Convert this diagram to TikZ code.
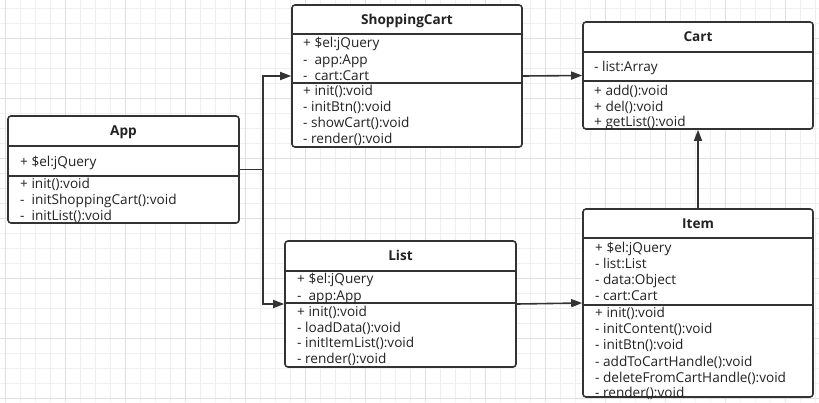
\documentclass[tikz,border=0pt]{standalone}
\usepackage{fontspec}
\setmainfont{Open Sans}
\usetikzlibrary{arrows.meta}
\definecolor{ink}{HTML}{333333}
\definecolor{txt}{HTML}{222222}
\definecolor{gridminor}{HTML}{EFEFEF}
\definecolor{gridmajor}{HTML}{E0E0E0}
\begin{document}
\begin{tikzpicture}[x=1pt,y=-1pt,
 box/.style={draw=ink,line width=1.6pt,rounded corners=3pt,fill=white,inner sep=0pt},
 title/.style={font=\bfseries\fontsize{13.6}{15}\selectfont,text=txt,inner sep=0pt,text height=9.6pt,text depth=0pt},
 row/.style={anchor=west,font=\fontsize{13.6}{15}\selectfont,text=txt,inner sep=0pt,text height=9.6pt,text depth=0pt},
 sep/.style={draw=ink,line width=1.6pt},
 conn/.style={draw=ink,line width=1.6pt},
 arr/.style={conn,-{Triangle[length=11pt,width=8pt]}}]
\useasboundingbox (0,0) rectangle (819,402);
\fill[white] (0,0) rectangle (819,402);
\foreach \x in {5,20,...,819} \draw[gridminor,line width=0.8pt] (\x,0) -- (\x,402);
\foreach \y in {8,23,...,402} \draw[gridminor,line width=0.8pt] (0,\y) -- (819,\y);
\foreach \x in {5,65,...,819} \draw[gridmajor,line width=0.8pt] (\x,0) -- (\x,402);
\foreach \y in {38,98,...,402} \draw[gridmajor,line width=0.8pt] (0,\y) -- (819,\y);

% boxes
\node[box,minimum width=231pt,minimum height=107pt] (app) at (123.5,169.5) {};
\node[box,minimum width=230pt,minimum height=142pt] (sc) at (407,76) {};
\node[box,minimum width=230pt,minimum height=107pt] (cart) at (698,75.5) {};
\node[box,minimum width=231pt,minimum height=126pt] (list) at (400.5,304) {};
\node[box,minimum width=230pt,minimum height=188pt] (item) at (698,303) {};

% separators
\foreach \b/\ya/\yb in {app/146/176, sc/34/83, cart/52/81, list/271/303, item/238/305}{
  \draw[sep] (\b.west |- 0,\ya) -- (\b.east |- 0,\ya);
  \draw[sep] (\b.west |- 0,\yb) -- (\b.east |- 0,\yb);
}

% titles
\node[title] (app-t) at (123.5,131) {App};
\node[title] (sc-t) at (407,19.5) {ShoppingCart};
\node[title] (cart-t) at (698,37) {Cart};
\node[title] (list-t) at (400.5,256) {List};
\node[title] (item-t) at (698,223.5) {Item};

% rows
\foreach \t/\y [count=\i] in {{+ \$el:jQuery}/162, {+ init():void}/184, {-~~initShoppingCart():void}/200, {-~~initList():void}/216}
  \node[row] (app-\i) at (20,\y) {\t};
\foreach \t/\y [count=\i] in {{+ \$el:jQuery}/43, {-~~app:App}/60, {-~~cart:Cart}/76, {+ init():void}/91, {- initBtn():void}/107, {- showCart():void}/123, {- render():void}/139}
  \node[row] (sc-\i) at (303,\y) {\t};
\foreach \t/\y [count=\i] in {{- list:Array}/67, {+ add():void}/91, {+ del():void}/106.5, {+ getList():void}/122}
  \node[row] (cart-\i) at (594,\y) {\t};
\foreach \t/\y [count=\i] in {{+ \$el:jQuery}/279, {-~~app:App}/296, {+ init():void}/312, {- loadData():void}/327.5, {- initItemList():void}/343, {- render():void}/359}
  \node[row] (list-\i) at (297,\y) {\t};
\foreach \t/\y [count=\i] in {{+ \$el:jQuery}/248, {- list:List}/263.5, {- data:Object}/279.5, {- cart:Cart}/296, {+ init():void}/313, {- initContent():void}/329, {- initBtn():void}/345, {- addToCartHandle():void}/361.5, {- deleteFromCartHandle():void}/377.5, {- render():void}/393}
  \node[row] (item-\i) at (595,\y) {\t};

% connectors
\draw[conn] (app.east) -- ++(23,0) coordinate (j);
\draw[arr] (j) |- (sc.west);
\draw[arr] (j) |- (list.west);
\draw[arr] (sc.east) -- (cart.west);
\draw[arr] (list.east) -- (item.west);
\draw[arr] (item.north) -- (cart.south);
\end{tikzpicture}
\end{document}
